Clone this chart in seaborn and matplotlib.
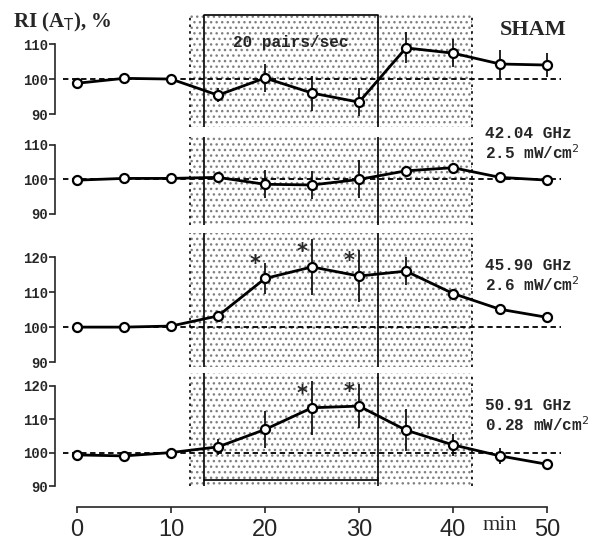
import numpy as np
import matplotlib
matplotlib.use("Agg")
import matplotlib.pyplot as plt
import seaborn as sns

# time points (min)
minutes = [0, 5, 10, 15, 20, 25, 30, 35, 40, 45, 50]

# RI(A_T), % for each panel
sham = [98.8, 100.2, 100.0, 95.4, 100.3, 96.0, 93.4, 108.9, 107.4, 104.3, 104.0]
sham_err = [0, 0, 0, 2.0, 4.0, 5.0, 4.0, 4.4, 4.0, 4.0, 3.5]

f4204 = [99.7, 100.2, 100.2, 100.5, 98.5, 98.3, 99.9, 102.4, 103.3, 100.5, 99.7]
f4204_err = [0, 0, 0, 0.8, 4.0, 4.0, 5.5, 1.0, 1.5, 0, 0]

f4590 = [100.0, 100.0, 100.3, 103.2, 113.9, 117.2, 114.6, 116.0, 109.6, 105.1, 102.8]
f4590_err = [0, 0, 0, 0, 4.3, 8.0, 7.5, 4.0, 0, 0, 0]

f5091 = [99.3, 99.0, 100.0, 101.7, 106.9, 113.4, 113.9, 106.7, 102.3, 99.0, 96.5]
f5091_err = [0, 0, 0, 2.3, 5.5, 8.0, 6.6, 6.2, 3.4, 2.5, 0]

# significant points (indices into minutes)
stars_4590 = [4, 5, 6]
stars_5091 = [5, 6]

panel_labels = ["SHAM", "42.04 GHz\n2.5 mW/cm$^2$", "45.90 GHz\n2.6 mW/cm$^2$",
                "50.91 GHz\n0.28 mW/cm$^2$"]

sns.set_style("white")
plt.rcParams['font.family'] = ['DejaVu Sans']

W, H = 613, 540
fig = plt.figure(figsize=(W / 100, H / 100), dpi=100)

x_left, x_right = 55, 600
xlim = ((x_left - 77) / 9.4, (x_right - 77) / 9.4)

# (top px, bottom px, ylim, y ticks)
panels = [
    (15, 127, (86.3, 118.3), [90, 100, 110]),
    (137, 225, (86.7, 112.2), [90, 100, 110]),
    (233, 367, (88.6, 126.9), [90, 100, 110, 120]),
    (373, 486, (91.8, 123.8), [90, 100, 110, 120]),
]
series = [(sham, sham_err, []), (f4204, f4204_err, []),
          (f4590, f4590_err, stars_4590), (f5091, f5091_err, stars_5091)]

mono = "Liberation Mono"
axes = []
for i, ((top, bot, ylim, yt), (vals, errs, stars)) in enumerate(zip(panels, series)):
    ax = fig.add_axes([x_left / W, 1 - bot / H, (x_right - x_left) / W, (bot - top) / H])
    ax.set_xlim(*xlim)
    ax.set_ylim(*ylim)
    ax.patch.set_alpha(0)

    # stippled exposure period
    ax.axvspan(12, 42, facecolor="white", edgecolor="0.5", hatch="...", lw=0, zorder=0)
    for xv in (12, 42):
        ax.axvline(xv, color="black", ls=(0, (1.5, 2.5)), lw=1.2, zorder=1)
    # 20 pairs/sec box
    for xv in (13.5, 32):
        ax.axvline(xv, color="black", lw=1.2, zorder=1)
    if i == 0:
        ax.plot([13.5, 32], [ylim[1], ylim[1]], color="black", lw=1.2, clip_on=False)
        ax.text(22.75, 110.3, "20 pairs/sec", family=mono, fontweight="bold",
                fontsize=11.5, ha="center", va="center")
    if i == 3:
        ax.plot([13.5, 32], [ylim[0], ylim[0]], color="black", lw=1.2, clip_on=False)

    # baseline
    ax.plot([-1.5, 51.5], [100, 100], color="black", ls=(0, (3, 2)), lw=1.3, zorder=2)

    # error bars
    ax.vlines(minutes, np.array(vals) - np.array(errs), np.array(vals) + np.array(errs),
              color="black", lw=1.2, zorder=3)
    sns.lineplot(x=minutes, y=vals, ax=ax, color="black", lw=2, marker="o",
                 markersize=6.5, markerfacecolor="white", markeredgecolor="black",
                 markeredgewidth=1.6, zorder=4)
    for k in stars:
        ax.text(minutes[k] - 1.1, vals[k] + 4.2, "*", fontsize=15,
                ha="center", va="center", fontweight="bold")

    sns.despine(ax=ax, top=True, right=True, bottom=(i < 3))
    ax.spines["left"].set_bounds(yt[0], yt[-1])
    ax.spines["left"].set_linewidth(1.2)
    ax.set_yticks(yt)
    ax.set_yticklabels([str(t) for t in yt], family=mono, fontweight="bold", fontsize=10)
    ax.tick_params(axis="y", direction="out", length=4, width=1.2, pad=1, left=True)

    if i < 3:
        ax.set_xticks([])
    else:
        ax.spines["bottom"].set_position(("outward", 15))
        ax.spines["bottom"].set_bounds(0, 50)
        ax.spines["bottom"].set_linewidth(1.2)
        ax.set_xticks([0, 10, 20, 30, 40, 50])
        ax.set_xticklabels(["0", "10", "20", "30", "40", "50"],
                           family="Liberation Sans", fontsize=17)
        ax.tick_params(axis="x", direction="out", length=4, width=1.2, pad=5, bottom=True)
    axes.append(ax)

# panel labels
fig.text(533 / W, 1 - 30 / H, panel_labels[0], family="Liberation Serif",
         fontweight="bold", fontsize=16, ha="center", va="center")
for (ypx, lab) in zip([144, 276, 416], panel_labels[1:]):
    fig.text(485 / W, 1 - ypx / H, lab, family=mono, fontweight="bold",
             fontsize=11.5, ha="left", va="center", linespacing=1.15)

fig.text(13 / W, 1 - 22 / H, "RI (A$_\\mathrm{T}$), %", family="Liberation Serif",
         fontweight="bold", fontsize=15, ha="left", va="center")
fig.text(483 / W, 1 - 526 / H, "min", family="Liberation Serif", fontsize=16,
         ha="left", va="center")

fig.savefig("out.png", dpi=100)
